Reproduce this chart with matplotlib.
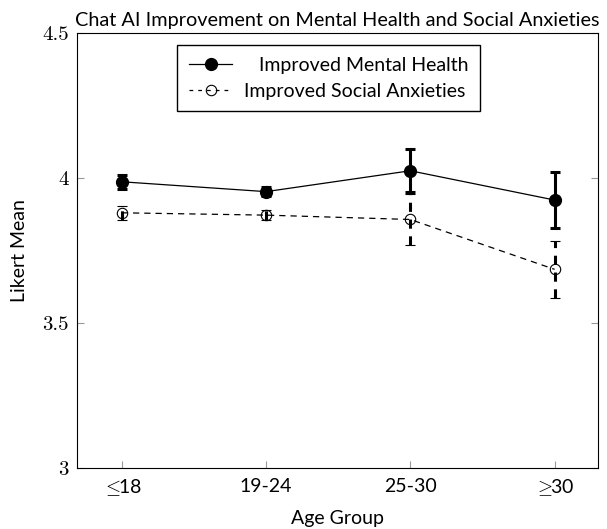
import matplotlib
matplotlib.use('Agg')
import matplotlib.pyplot as plt
from matplotlib.lines import Line2D
import numpy as np

age_groups = [r'$\leq\!\!$18', '19-24', '25-30', r'$\geq\!\!$30']
mental_mean = [3.987, 3.953, 4.025, 3.924]
mental_err = [0.024, 0.015, 0.074, 0.097]
social_mean = [3.880, 3.872, 3.857, 3.685]
social_err = [0.025, 0.018, 0.087, 0.098]
y_ticks = [3, 3.5, 4, 4.5]
y_tick_labels = ['3', '3.5', '4', '4.5']

plt.rcParams['font.family'] = ['Lato', 'DejaVu Sans']
plt.rcParams['mathtext.fontset'] = 'cm'

fig = plt.figure(figsize=(6.07, 5.29), dpi=100)
ax = fig.add_axes([0.1269, 0.1153, 0.8581, 0.8223])

x = np.arange(len(age_groups))

ax.errorbar(x, mental_mean, yerr=mental_err, color='black', linewidth=0.9,
            marker='o', markersize=8.5, elinewidth=2.2, capsize=3.3, capthick=2.2)
eb = ax.errorbar(x, social_mean, yerr=social_err, color='black', linewidth=0.9,
                 linestyle='--', dashes=(5, 4), marker='o', markersize=7.5,
                 markerfacecolor='none', markeredgewidth=0.8,
                 elinewidth=2.2, capsize=3.3, capthick=2.2)
eb[-1][0].set_linestyle((0, (3, 2.5)))

ax.set_xlim(-0.31, 3.3)
ax.set_ylim(3, 4.5)
ax.set_xticks(x)
ax.set_xticklabels(age_groups, fontsize=14)
ax.set_yticks(y_ticks)
ax.set_yticklabels(y_tick_labels, fontsize=15, family='cmr10')
ax.tick_params(axis='both', direction='in', length=5, width=0.8, color='0.6')
ax.tick_params(axis='y', right=True, pad=6)
ax.tick_params(axis='x', pad=7)

for s in ax.spines.values():
    s.set_linewidth(0.8)

ax.set_title('Chat AI Improvement on Mental Health and Social Anxieties', fontsize=14.3, pad=5)
ax.set_xlabel('Age Group', fontsize=14, labelpad=8)
ax.set_ylabel('Likert Mean', fontsize=14, labelpad=10)

handles = [
    Line2D([], [], color='black', linewidth=0.9, marker='o', markersize=8.5),
    Line2D([], [], color='black', linewidth=0.9, linestyle=(0, (3, 4)), marker='o',
           markersize=7.5, markerfacecolor='none', markeredgewidth=0.8),
]
ax.legend(handles, ['   Improved Mental Health', 'Improved Social Anxieties'],
          loc='upper center', bbox_to_anchor=(0.483, 0.972), borderaxespad=0,
          fontsize=14, frameon=True, fancybox=False, edgecolor='black', framealpha=1,
          handlelength=2.2, handletextpad=0.6, borderpad=0.6, labelspacing=0.45)

fig.savefig('out.png', dpi=100)
